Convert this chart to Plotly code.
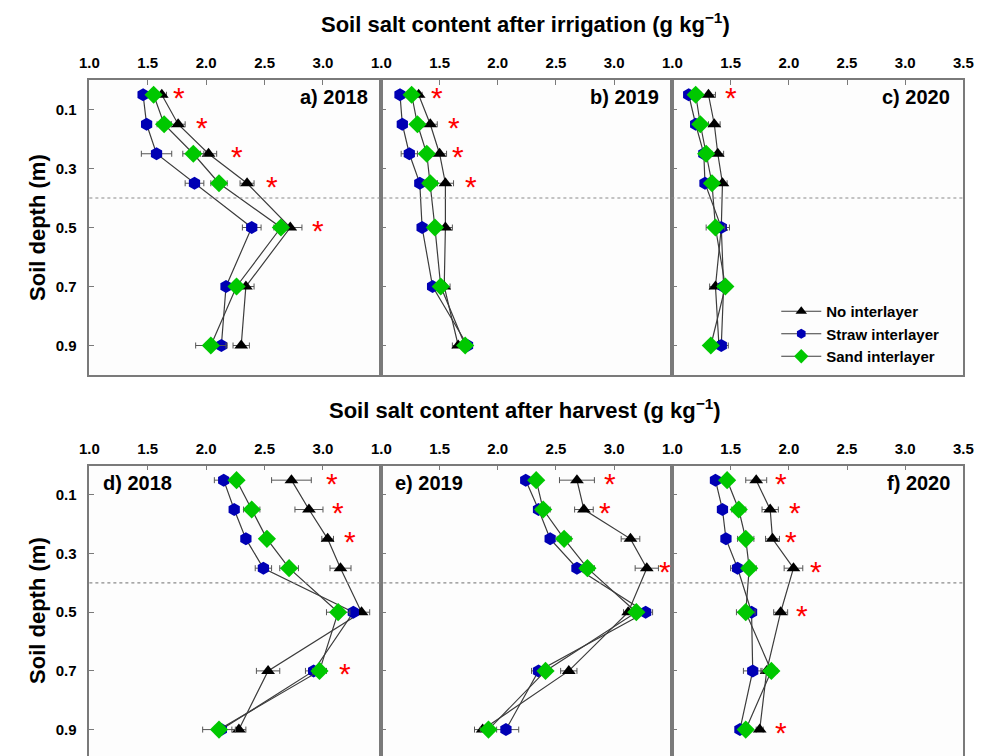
import plotly.graph_objects as go

W, H = 994, 756

depth = [0.05, 0.15, 0.25, 0.35, 0.5, 0.7, 0.9]
series_names = ["No interlayer", "Straw interlayer", "Sand interlayer"]
panel_labels = ["a) 2018", "b) 2019", "c) 2020", "d) 2018", "e) 2019", "f) 2020"]
depth_ticks = [0.1, 0.3, 0.5, 0.7, 0.9]
depth_ticklabels = ["0.1", "0.3", "0.5", "0.7", "0.9"]
x_ticks_ab = [1.0, 1.5, 2.0, 2.5, 3.0]
x_ticks_c = [1.0, 1.5, 2.0, 2.5, 3.0, 3.5]

# after irrigation
a_no = [1.62, 1.76, 2.02, 2.35, 2.72, 2.34, 2.30]
a_straw = [1.46, 1.49, 1.575, 1.90, 2.39, 2.17, 2.13]
a_sand = [1.55, 1.64, 1.89, 2.11, 2.64, 2.26, 2.04]
a_no_err = [0.04, 0.06, 0.07, 0.06, 0.10, 0.07, 0.07]
a_straw_err = [0.03, 0.03, 0.13, 0.08, 0.08, 0.03, 0.05]
a_sand_err = [0.03, 0.06, 0.09, 0.07, 0.06, 0.04, 0.13]

b_no = [1.32, 1.42, 1.50, 1.55, 1.55, 1.54, 1.66]
b_straw = [1.16, 1.18, 1.24, 1.33, 1.35, 1.44, 1.74]
b_sand = [1.26, 1.31, 1.39, 1.42, 1.46, 1.51, 1.72]
b_no_err = [0.03, 0.06, 0.06, 0.07, 0.06, 0.05, 0.05]
b_straw_err = [0.02, 0.02, 0.07, 0.03, 0.03, 0.03, 0.03]
b_sand_err = [0.02, 0.03, 0.03, 0.06, 0.03, 0.03, 0.03]

c_no = [1.31, 1.36, 1.39, 1.43, 1.42, 1.37, 1.40]
c_straw = [1.14, 1.20, 1.27, 1.28, 1.42, 1.44, 1.42]
c_sand = [1.20, 1.24, 1.29, 1.34, 1.37, 1.455, 1.33]
c_no_err = [0.06, 0.05, 0.05, 0.04, 0.04, 0.05, 0.04]
c_straw_err = [0.03, 0.03, 0.03, 0.03, 0.07, 0.05, 0.06]
c_sand_err = [0.03, 0.03, 0.03, 0.03, 0.08, 0.04, 0.03]

# after harvest
d_no = [2.73, 2.88, 3.04, 3.15, 3.33, 2.53, 2.28]
d_straw = [2.15, 2.24, 2.34, 2.49, 3.26, 2.92, 2.13]
d_sand = [2.26, 2.39, 2.52, 2.71, 3.13, 2.97, 2.11]
d_no_err = [0.17, 0.12, 0.05, 0.09, 0.07, 0.10, 0.06]
d_straw_err = [0.08, 0.03, 0.03, 0.07, 0.03, 0.07, 0.04]
d_sand_err = [0.03, 0.07, 0.03, 0.08, 0.10, 0.06, 0.14]

e_no = [2.68, 2.74, 3.14, 3.28, 3.12, 2.61, 1.87]
e_straw = [2.24, 2.35, 2.45, 2.68, 3.27, 2.35, 2.07]
e_sand = [2.33, 2.39, 2.57, 2.77, 3.19, 2.41, 1.92]
e_no_err = [0.15, 0.08, 0.08, 0.10, 0.04, 0.07, 0.07]
e_straw_err = [0.03, 0.03, 0.03, 0.03, 0.06, 0.06, 0.11]
e_sand_err = [0.03, 0.06, 0.06, 0.06, 0.03, 0.03, 0.07]

f_no = [1.72, 1.84, 1.86, 2.04, 1.93, 1.81, 1.75]
f_straw = [1.37, 1.43, 1.46, 1.56, 1.68, 1.69, 1.58]
f_sand = [1.47, 1.57, 1.63, 1.66, 1.63, 1.85, 1.63]
f_no_err = [0.09, 0.07, 0.06, 0.08, 0.06, 0.05, 0.03]
f_straw_err = [0.03, 0.03, 0.03, 0.06, 0.03, 0.08, 0.03]
f_sand_err = [0.03, 0.06, 0.07, 0.06, 0.08, 0.05, 0.03]

# significance asterisks: x value, depth
a_star_x = [1.77, 1.96, 2.26, 2.56, 2.96]
a_star_d = [0.05, 0.15, 0.25, 0.35, 0.5]
b_star_x = [1.48, 1.62, 1.66, 1.77]
b_star_d = [0.05, 0.15, 0.25, 0.35]
c_star_x = [1.50]
c_star_d = [0.05]
d_star_x = [3.08, 3.13, 3.23, 3.19]
d_star_d = [0.05, 0.15, 0.25, 0.7]
e_star_x = [2.96, 2.92, 3.44]
e_star_d = [0.05, 0.15, 0.35]
f_star_x = [1.93, 2.05, 2.02, 2.23, 2.11, 1.93]
f_star_d = [0.05, 0.15, 0.25, 0.35, 0.5, 0.9]

panels = [
    (a_no, a_straw, a_sand, a_no_err, a_straw_err, a_sand_err, a_star_x, a_star_d),
    (b_no, b_straw, b_sand, b_no_err, b_straw_err, b_sand_err, b_star_x, b_star_d),
    (c_no, c_straw, c_sand, c_no_err, c_straw_err, c_sand_err, c_star_x, c_star_d),
    (d_no, d_straw, d_sand, d_no_err, d_straw_err, d_sand_err, d_star_x, d_star_d),
    (e_no, e_straw, e_sand, e_no_err, e_straw_err, e_sand_err, e_star_x, e_star_d),
    (f_no, f_straw, f_sand, f_no_err, f_straw_err, f_sand_err, f_star_x, f_star_d),
]

FONT = "Liberation Sans, Arial, sans-serif"
marker_styles = [
    dict(symbol="triangle-up", color="#000000", size=12),
    dict(symbol="hexagon", color="#0000b4", size=13),
    dict(symbol="diamond", color="#00c800", size=14),
]
legend_marker_sizes = [10, 10, 11]
LINE_C = "#3c3c3c"
AX_C = "#7a7a7a"

# panel pixel geometry
x_px = [(81, 379), (379, 676), (676, 973)]
y_px = [(80, 375), (465.5, 756)]

fig = go.Figure()
layout = dict(
    width=W, height=H,
    margin=dict(l=0, r=0, t=0, b=0),
    paper_bgcolor="white", plot_bgcolor="#fdfdfd",
    font=dict(family=FONT, color="black"),
    showlegend=True,
    legend=dict(x=782 / W, y=1 - 295 / H, xanchor="left", yanchor="top",
                bgcolor="rgba(0,0,0,0)", font=dict(size=15, weight="bold"),
                tracegroupgap=0, itemwidth=40),
)

annotations = []
shapes = []
for p, (no, straw, sand, eno, est, esa, sx, sd) in enumerate(panels):
    row, col = divmod(p, 3)
    ax = p + 1
    xa = "x" if ax == 1 else f"x{ax}"
    ya = "y" if ax == 1 else f"y{ax}"
    for s, (vals, errs) in enumerate([(no, eno), (straw, est), (sand, esa)]):
        fig.add_trace(go.Scatter(
            x=vals, y=depth, mode="lines+markers", name=series_names[s],
            xaxis=xa, yaxis=ya, showlegend=False,
            line=dict(color=LINE_C, width=1.2),
            marker=dict(symbol=marker_styles[s]["symbol"], color=marker_styles[s]["color"],
                        size=marker_styles[s]["size"], line=dict(width=0)),
            error_x=dict(type="data", array=errs, visible=True, color="#555555",
                         thickness=1, width=3),
        ))
    for xv, dv in zip(sx, sd):
        annotations.append(dict(x=xv, y=dv, xref=xa, yref=ya, text="*", showarrow=False,
                                xanchor="center", yanchor="middle",
                                font=dict(size=30, color="#ff0000"), yshift=-3))
    x0, x1 = x_px[col]
    y0, y1 = y_px[row]
    tv = x_ticks_c if col == 2 else x_ticks_ab
    layout["xaxis" if ax == 1 else f"xaxis{ax}"] = dict(
        domain=[x0 / W, x1 / W], anchor=ya, side="top", range=[1.0, 3.5],
        tickvals=tv, ticktext=[f"{v:.1f}" for v in tv],
        ticks="inside", ticklen=5, tickcolor=AX_C, tickwidth=1,
        showline=True, linecolor=AX_C, linewidth=1.5, mirror=(row == 0),
        showgrid=False, zeroline=False, ticklabelstandoff=4,
        tickfont=dict(size=15, weight="bold"),
    )
    layout["yaxis" if ax == 1 else f"yaxis{ax}"] = dict(
        domain=[1 - y1 / H, 1 - y0 / H], anchor=xa,
        range=[1.0, 0.0] if row == 0 else [0.99, 0.0],
        tickvals=depth_ticks, ticktext=depth_ticklabels,
        showticklabels=(col == 0),
        ticks="inside", ticklen=5, tickcolor=AX_C, tickwidth=1,
        showline=True, linecolor=AX_C, linewidth=1.5, mirror=True,
        showgrid=False, zeroline=False, ticklabelstandoff=8,
        tickfont=dict(size=15, weight="bold"),
    )
    # panel label
    if p in (3, 4):
        annotations.append(dict(x=0.04, y=0.985, xref=f"{xa} domain", yref=f"{ya} domain",
                                text=panel_labels[p], showarrow=False, xanchor="left", yanchor="top",
                                font=dict(size=20, weight="bold")))
    else:
        annotations.append(dict(x=0.96, y=0.985, xref=f"{xa} domain", yref=f"{ya} domain",
                                text=panel_labels[p], showarrow=False, xanchor="right", yanchor="top",
                                font=dict(size=20, weight="bold")))

# legend entries (legend-only traces with smaller symbols, as in the reference legend)
for s in range(3):
    fig.add_trace(go.Scatter(
        x=[None], y=[None], mode="lines+markers", name=series_names[s],
        xaxis="x3", yaxis="y3", showlegend=True,
        line=dict(color=LINE_C, width=1.2),
        marker=dict(symbol=marker_styles[s]["symbol"], color=marker_styles[s]["color"],
                    size=legend_marker_sizes[s], line=dict(width=0)),
    ))

# dotted line at 0.4 m across each row
for row, ya in enumerate(["y", "y4"]):
    shapes.append(dict(type="line", xref="paper", yref=ya, x0=81 / W, x1=973 / W, y0=0.4, y1=0.4,
                       line=dict(color="#8a8a8a", width=1.2, dash="dot")))

# titles
annotations.append(dict(x=526 / W, y=1 - 23 / H, xref="paper", yref="paper",
                        xanchor="center", yanchor="middle",
                        text="Soil salt content after irrigation (g kg<sup>\u22121</sup>)",
                        showarrow=False, font=dict(size=22, weight="bold")))
annotations.append(dict(x=526 / W, y=1 - 409 / H, xref="paper", yref="paper",
                        xanchor="center", yanchor="middle",
                        text="Soil salt content after harvest (g kg<sup>\u22121</sup>)",
                        showarrow=False, font=dict(size=22, weight="bold")))
for yc in [(80 + 375) / 2, (465 + 756) / 2]:
    annotations.append(dict(x=28 / W, y=1 - yc / H, xref="paper", yref="paper",
                            xanchor="center", yanchor="middle",
                            text="Soil depth (m)", textangle=-90, showarrow=False,
                            font=dict(size=22, weight="bold")))

layout["annotations"] = annotations
layout["shapes"] = shapes
fig.update_layout(**layout)
fig.write_html("out.html", config={"displayModeBar": False},
               post_script="document.body.style.margin='0';document.body.style.overflow='hidden';")
